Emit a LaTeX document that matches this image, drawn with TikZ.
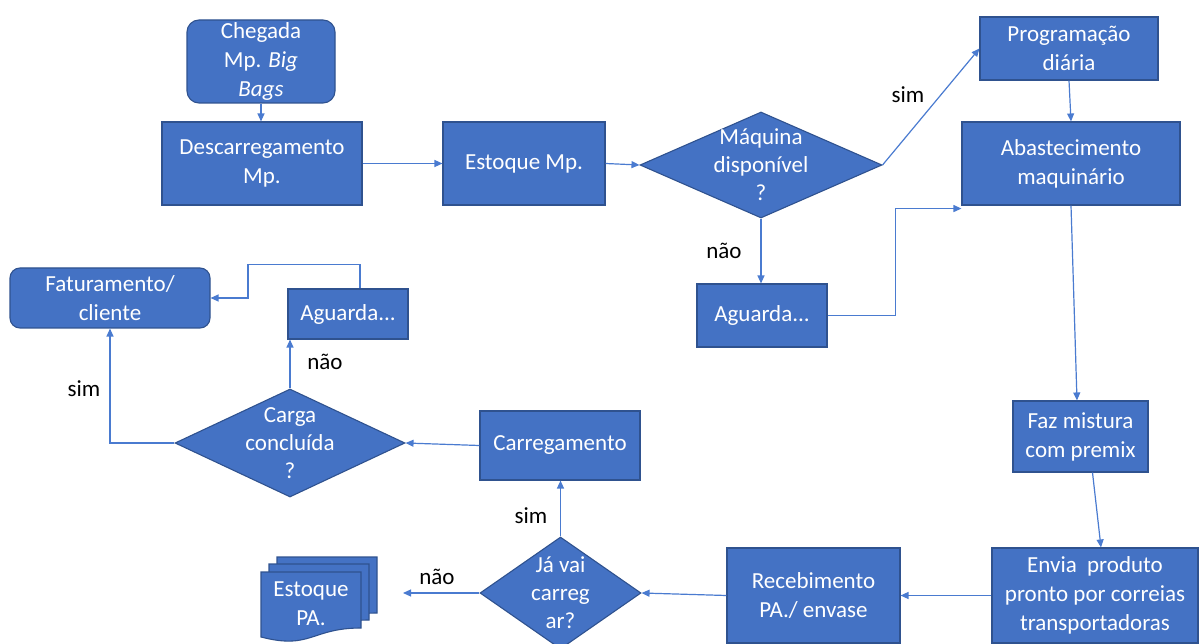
\documentclass[tikz,border=0pt]{standalone}
\usepackage{fontspec}
\setmainfont{Carlito}
\usetikzlibrary{shapes.geometric,arrows.meta,calc}
\definecolor{boxfill}{HTML}{4472C4}
\definecolor{boxline}{HTML}{2F528F}
\definecolor{connc}{HTML}{4A7BD0}
\begin{document}
\begin{tikzpicture}[x=1pt,y=-1pt,
  every node/.style={font=\fontsize{23}{29}\selectfont},
  box/.style={draw=boxline, fill=boxfill, line width=1.1pt, text=white, align=center, inner sep=0pt},
  rbox/.style={box, rounded corners=12pt},
  dia/.style={box, shape=diamond},
  dtext/.style={text=white, align=center, inner sep=0pt, font=\fontsize{23}{28}\selectfont},
  lbl/.style={text=black, inner sep=0pt},
  conn/.style={draw=connc, line width=1.2pt, -{Triangle[length=8pt,width=7pt]}},
  docpage/.pic={\path[box] (0,0) -- (100,0) -- (100,56) .. controls (50,56) and (50,78) .. (0,65) -- cycle;}
]
\useasboundingbox (0,0) rectangle (1200,644);

% nodes
\node[rbox, minimum width=148pt, minimum height=83pt] (cheg) at (261,61.5) {Chegada\\Mp. \textit{Big}\\\textit{Bags}};
\node[box, minimum width=200pt, minimum height=83pt] (desc) at (262,163.5) {Descarregamento\\Mp.};
\node[box, minimum width=162pt, minimum height=83pt] (estmp) at (524,163.5) {Estoque Mp.};
\node[dia, minimum width=242pt, minimum height=106pt] (maq) at (761,165) {};
\node[dtext] (maqt) at (761,165) {Máquina\\disponível\\?};
\node[box, minimum width=178pt, minimum height=63pt] (prog) at (1069,48.5) {Programação\\diária};
\node[box, minimum width=218pt, minimum height=83pt] (abast) at (1071,163.5) {Abastecimento\\maquinário};
\node[box, minimum width=130pt, minimum height=63pt] (ag1) at (762,315.5) {Aguarda...};
\node[rbox, rounded corners=10pt, minimum width=200pt, minimum height=60pt] (fat) at (110,298) {Faturamento/\\cliente};
\node[box, minimum width=120pt, minimum height=50pt] (ag2) at (348,314) {Aguarda...};
\node[dia, minimum width=230pt, minimum height=108pt] (carga) at (290,443) {};
\node[dtext] (cargat) at (290,443) {Carga\\concluída\\?};
\node[box, minimum width=160pt, minimum height=69pt] (carr) at (560,445.5) {Carregamento};
\node[box, minimum width=135pt, minimum height=71pt] (faz) at (1080.5,436.5) {Faz mistura\\com premix};
\node[box, minimum width=206pt, minimum height=95pt] (envia) at (1095,595.5) {Envia\ \ produto\\pronto por correias\\transportadoras};
\node[box, minimum width=173pt, minimum height=95pt] (receb) at (813.5,595.5) {Recebimento\\PA./ envase};
\node[dia, minimum width=161pt, minimum height=112pt] (javai) at (560.5,593) {};
\node[dtext] (javait) at (560.5,593) {Já vai\\carreg\\ar?};

% multi-document
\pic at (277,557) {docpage};
\pic at (269,564) {docpage};
\pic at (261,572) {docpage};
\node[dtext, font=\fontsize{23}{29}\selectfont] (estpa) at (311,604) {Estoque\\PA.};

% labels
\node[lbl] (l1) at (908,95) {sim};
\node[lbl] (l2) at (724,251) {não};
\node[lbl] (l3) at (325,362) {não};
\node[lbl] (l4) at (84,389) {sim};
\node[lbl] (l5) at (531,516) {sim};
\node[lbl] (l6) at (437,577) {não};

% connectors
\draw[conn] (cheg.south) -- (cheg.south |- desc.north);
\draw[conn] (desc.east) -- (estmp.west);
\draw[conn] (estmp.east) -- (maq.west);
\draw[conn] (maq.east) -- (prog.west);
\draw[conn] (prog.south) -- (abast.north);
\draw[conn] (maq.south) -- (maq.south |- ag1.north);
\draw[conn] (ag1.east) -- ++(68,0) |- ([yshift=-3pt]abast.south west);
\draw[conn] (abast.south) -- ([xshift=-3.5pt]faz.north);
\draw[conn] ([xshift=12pt]faz.south) -- ([xshift=6pt]envia.north);
\draw[conn] (envia.west) -- (receb.east);
\draw[conn] (receb.west) -- (javai.east);
\coordinate (naoend) at (403,593);
\draw[conn] (javai.west) -- (naoend);
\draw[conn] (javai.north) -- (javai.north |- carr.south);
\draw[conn] (carr.west) -- (carga.east);
\draw[conn] (carga.north) -- (carga.north |- ag2.south);
\draw[conn] ([xshift=12pt]ag2.north) -- ++(0,-24) -- ++(-112,0) |- (fat.east);
\draw[conn] (carga.west) -| (fat.south);
\end{tikzpicture}
\end{document}
